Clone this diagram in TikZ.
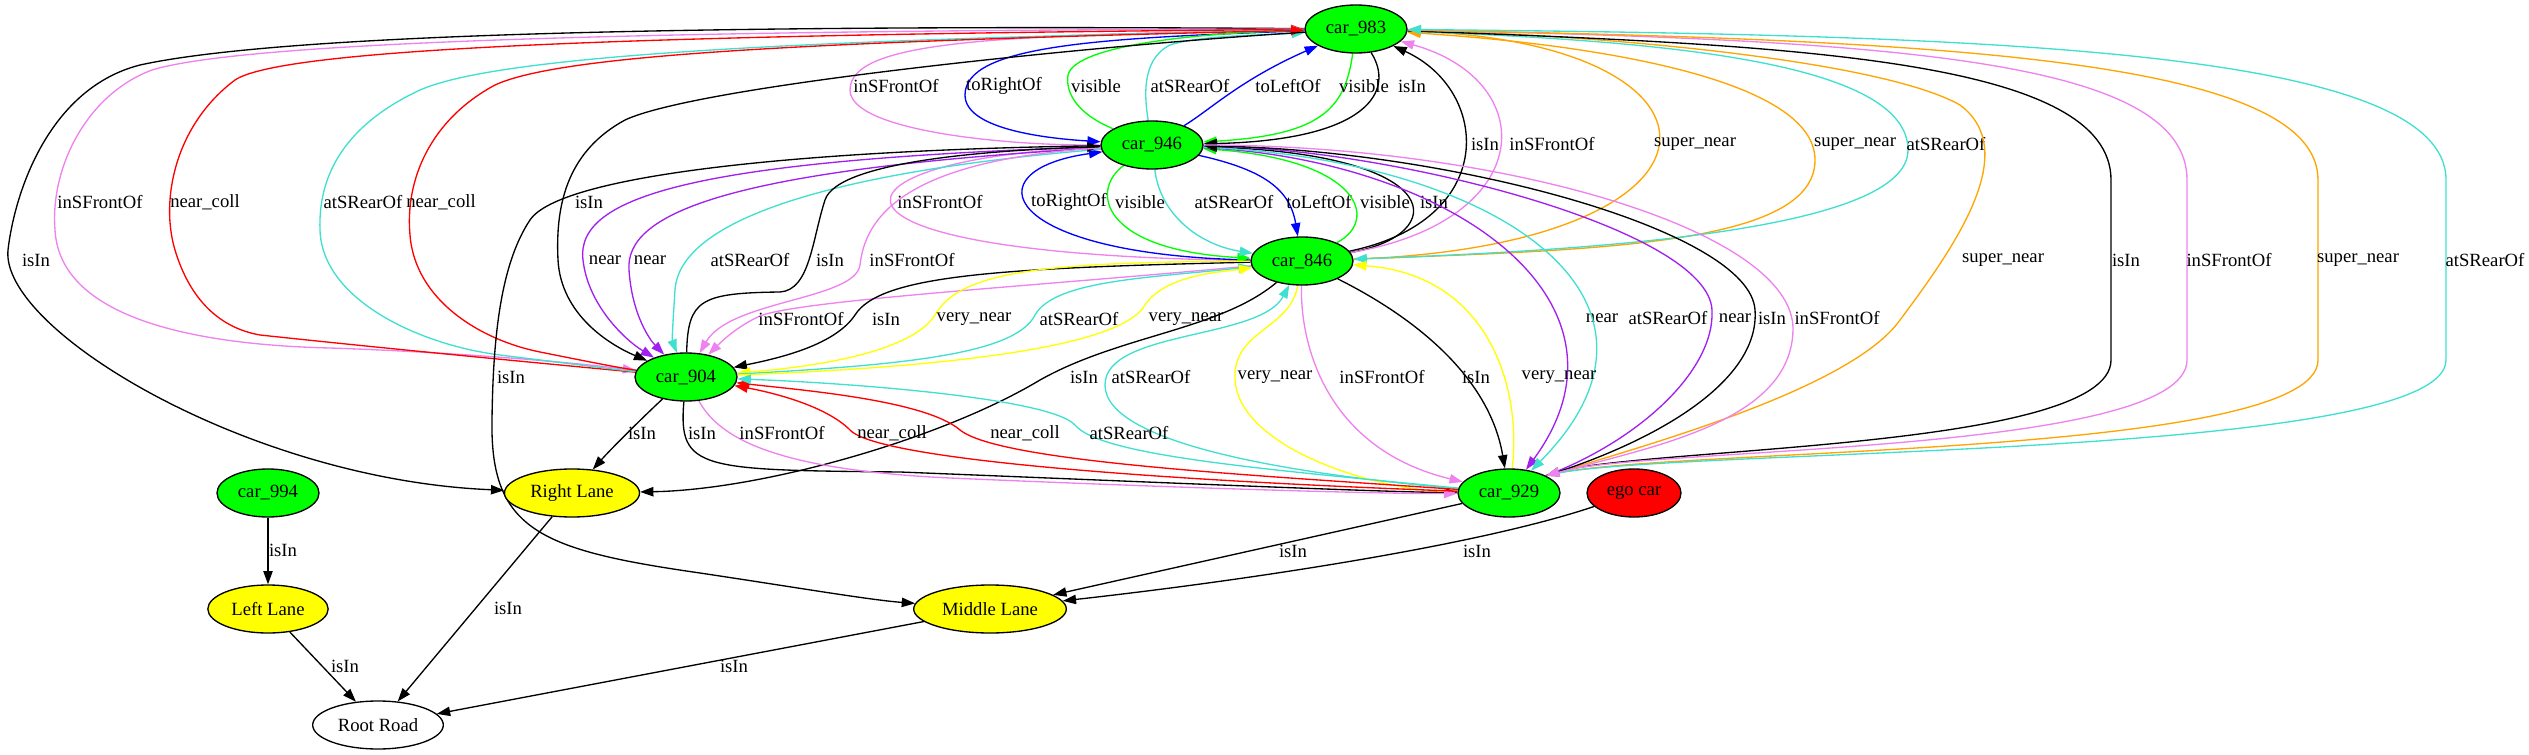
\documentclass[tikz,border=0pt]{standalone}
\usepackage{fontspec}
\setmainfont{Liberation Serif}
\usepackage{tikz}
\usetikzlibrary{shapes.geometric,arrows.meta,backgrounds}
\definecolor{gvgreen}{HTML}{00FF00}
\definecolor{gvyellow}{HTML}{FFFF00}
\definecolor{gvred}{HTML}{FF0000}
\definecolor{gvviolet}{HTML}{EE82EE}
\definecolor{gvturq}{HTML}{40E0D0}
\definecolor{gvpurple}{HTML}{A020F0}
\definecolor{gvorange}{HTML}{FFA500}
\definecolor{gvblue}{HTML}{0000FF}
\tikzset{
  veh/.style={ellipse,draw,line width=1pt,fill=gvgreen,minimum height=36pt,
    minimum width=54pt,inner xsep=4.5pt,inner ysep=2pt},
  lane/.style={veh,fill=gvyellow},
  road/.style={veh,fill=white},
  ar/.style={-{Triangle[length=10pt,width=7pt]},line width=1pt},
  ra/.style={{Triangle[length=10pt,width=7pt]}-,line width=1pt},
  lbl/.style={inner sep=0pt,text=black},
}

\begin{document}
\begin{tikzpicture}[x=0.75pt,y=-0.75pt,font=\fontsize{14}{16}\selectfont]
  \useasboundingbox (0,0) rectangle (2529,755);
  \node[veh] (c983) at (1356,29) {car\_983};
  \node[veh] (c946) at (1152,145) {car\_946};
  \node[veh] (c846) at (1302,261) {car\_846};
  \node[veh] (c904) at (686,377) {car\_904};
  \node[veh] (c994) at (268,493) {car\_994};
  \node[lane] (rlane) at (572,493) {Right Lane};
  \node[veh] (c929) at (1509,493) {car\_929};
  \node[veh,fill=gvred] (ego) at (1634,493) {ego car};
  \node[lane] (llane) at (268,609) {Left Lane};
  \node[lane] (mlane) at (990,609) {Middle Lane};
  \node[road] (root) at (378,725) {Root Road};

  \begin{scope}[on background layer]
  \draw[ar,gvviolet] (c983) .. controls (1000,35) and (850,40) .. (850,90) .. controls (850,130) and (1000,145) .. (c946) node[lbl] (t1) at (896,86) {inSFrontOf};
  \draw[ar,gvblue] (c983) .. controls (1100,38) and (965,45) .. (965,95) .. controls (965,128) and (1040,138) .. (c946) node[lbl] (t2) at (1004,86) {toRightOf};
  \draw[ar,gvgreen] (c946) .. controls (1080,115) and (1065,95) .. (1068,75) .. controls (1075,45) and (1200,33) .. (c983) node[lbl] (t3) at (1096,86) {visible};
  \draw[ar,gvturq] (c946) .. controls (1145,100) and (1140,60) .. (1170,45) .. controls (1200,35) and (1270,35) .. (c983) node[lbl] (t4) at (1190,86) {atSRearOf};
  \draw[ar,gvblue] (c946) .. controls (1210,110) and (1240,80) .. (c983) node[lbl] (t5) at (1288,86) {toLeftOf};
  \draw[ar,gvgreen] (c983) .. controls (1345,110) and (1320,135) .. (c946) node[lbl] (t6) at (1364,86) {visible};
  \draw[ar] (c983) .. controls (1395,90) and (1370,140) .. (c946) node[lbl] (t7) at (1412,86) {isIn};

  \draw[ar,gvviolet] (c846) .. controls (780,255) and (820,160) .. (c946) node[lbl] (t8) at (940,202) {inSFrontOf};
  \draw[ar,gvblue] (c846) .. controls (1000,255) and (970,170) .. (c946) node[lbl] (t9) at (1069,202) {toRightOf};
  \draw[ar,gvgreen] (c946) .. controls (1090,190) and (1100,250) .. (c846) node[lbl] (t10) at (1140,202) {visible};
  \draw[ar,gvturq] (c946) .. controls (1160,215) and (1200,245) .. (c846) node[lbl] (t11) at (1234,202) {atSRearOf};
  \draw[ar,gvblue] (c946) .. controls (1265,170) and (1290,190) .. (c846) node[lbl] (t12) at (1319,202) {toLeftOf};
  \draw[ar,gvgreen] (c846) .. controls (1380,220) and (1360,160) .. (c946) node[lbl] (t13) at (1385,202) {visible};
  \draw[ar] (c846) .. controls (1450,235) and (1450,155) .. (c946) node[lbl] (t14) at (1434,202) {isIn};

  \draw[ar] (c846) .. controls (1500,220) and (1490,90) .. (c983) node[lbl] (t15) at (1485,144) {isIn};
  \draw[ar,gvviolet] (c846) .. controls (1540,220) and (1540,80) .. (c983) node[lbl] (t16) at (1552,144) {inSFrontOf};
  \draw[ar,gvorange] (c846) .. controls (1750,245) and (1750,45) .. (c983) node[lbl] (t17) at (1695,144) {super\_near};
  \draw[ar,gvorange] (c846) .. controls (1600,250) and (1815,245) .. (1815,160) .. controls (1815,80) and (1600,45) .. (c983) node[lbl] (t18) at (1855,144) {super\_near};
  \draw[ar,gvturq] (c983) .. controls (1620,40) and (1908,55) .. (1908,150) .. controls (1908,230) and (1600,250) .. (c846) node[lbl] (t19) at (1946,144) {atSRearOf};

  \draw[ar,gvorange] (c929.25) .. controls (1640,447) and (1850,390) .. (1900,320) .. controls (1960,240) and (2020,150) .. (1960,105) .. controls (1880,60) and (1600,35) .. (c983) node[lbl] (t20) at (2003,260) {super\_near};
  \draw[ar] (c983) .. controls (1800,45) and (2111,60) .. (2111,180) -- (2111,360) .. controls (2111,450) and (1640,447) .. (c929.25) node[lbl] (t21) at (2126,260) {isIn};
  \draw[ar,gvviolet] (c983) .. controls (1900,40) and (2187,60) .. (2187,180) -- (2187,360) .. controls (2187,455) and (1640,447) .. (c929.25) node[lbl] (t22) at (2229,260) {inSFrontOf};
  \draw[ar,gvorange] (c929.25) .. controls (1640,447) and (2318,460) .. (2318,360) -- (2318,180) .. controls (2318,60) and (1950,40) .. (c983) node[lbl] (t23) at (2358,260) {super\_near};
  \draw[ar,gvturq] (c929.25) .. controls (1640,447) and (2446,462) .. (2446,360) -- (2446,180) .. controls (2446,50) and (2000,35) .. (c983) node[lbl] (t24) at (2485,260) {atSRearOf};

  \draw[ar,gvpurple] (c946) .. controls (1450,160) and (1650,300) .. (c929) node[lbl] (t25) at (1602,318) {near};
  \draw[ar,gvturq] (c946) .. controls (1500,160) and (1700,300) .. (c929) node[lbl] (t26) at (1668,318) {atSRearOf};
  \draw[ar,gvpurple] (c929.25) .. controls (1640,440) and (1715,370) .. (1712,310) .. controls (1708,230) and (1400,150) .. (c946) node[lbl] (t27) at (1735,318) {near};
  \draw[ar] (c929.25) .. controls (1660,440) and (1760,380) .. (1755,310) .. controls (1750,230) and (1450,150) .. (c946) node[lbl] (t28) at (1772,318) {isIn};
  \draw[ar,gvviolet] (c946) .. controls (1500,145) and (1795,230) .. (1793,330) .. controls (1791,420) and (1660,445) .. (c929.25) node[lbl] (t29) at (1837,318) {inSFrontOf};

  \draw[ar,gvpurple] (c946) .. controls (700,160) and (575,195) .. (583,260) .. controls (588,305) and (625,340) .. (c904) node[lbl] (t30) at (605,260) {near};
  \draw[ar,gvpurple] (c946) .. controls (720,170) and (625,215) .. (629,270) .. controls (632,315) and (650,340) .. (c904) node[lbl] (t31) at (650,260) {near};
  \draw[ar,gvturq] (c946) .. controls (850,170) and (680,215) .. (675,290) .. controls (673,320) and (672,340) .. (c904) node[lbl] (t32) at (750,260) {atSRearOf};
  \draw[ar] (c904) .. controls (688,300) and (700,293) .. (780,292) .. controls (810,290) and (812,240) .. (825,200) .. controls (838,160) and (1000,150) .. (c946) node[lbl] (t33) at (830,260) {isIn};
  \draw[ar,gvviolet] (c946) .. controls (900,160) and (865,220) .. (860,265) .. controls (855,300) and (730,300) .. (c904) node[lbl] (t34) at (912,260) {inSFrontOf};

  \draw[ar,gvviolet] (c846) .. controls (1050,285) and (800,300) .. (760,316) .. controls (740,325) and (725,338) .. (c904) node[lbl] (t35) at (801,319) {inSFrontOf};
  \draw[ar] (c846) .. controls (1000,268) and (880,275) .. (855,315) .. controls (835,345) and (780,358) .. (c904) node[lbl] (t36) at (886,319) {isIn};
  \draw[ar,gvyellow] (c846) .. controls (1050,262) and (960,270) .. (935,315) .. controls (910,355) and (800,368) .. (c904) node[lbl] (t37) at (974,319) {very\_near};
  \draw[ar,gvturq] (c904) .. controls (900,365) and (1015,355) .. (1035,315) .. controls (1055,280) and (1150,278) .. (c846) node[lbl] (t38) at (1079,319) {atSRearOf};
  \draw[ar,gvyellow] (c904) .. controls (1000,365) and (1125,340) .. (1145,305) .. controls (1165,275) and (1220,272) .. (c846) node[lbl] (t39) at (1186,319) {very\_near};

  \draw[ar] (c846) .. controls (1220,330) and (1120,335) .. (1040,380) .. controls (940,440) and (760,490) .. (rlane) node[lbl] (t40) at (1084,377) {isIn};
  \draw[ar,gvturq] (c929) .. controls (1300,475) and (1105,445) .. (1105,385) .. controls (1105,330) and (1260,340) .. (c846) node[lbl] (t41) at (1151,377) {atSRearOf};
  \draw[ar,gvyellow] (c846) .. controls (1290,330) and (1232,330) .. (1235,380) .. controls (1240,450) and (1380,490) .. (c929) node[lbl] (t42) at (1275,377) {very\_near};
  \draw[ar,gvviolet] (c846) .. controls (1300,350) and (1330,450) .. (c929) node[lbl] (t43) at (1382,377) {inSFrontOf};
  \draw[ar] (c846) .. controls (1420,320) and (1490,380) .. (c929) node[lbl] (t44) at (1476,377) {isIn};
  \draw[ar,gvyellow] (c929) .. controls (1522,390) and (1490,275) .. (c846) node[lbl] (t45) at (1559,377) {very\_near};

  \draw[ar] (c904) .. controls (640,420) and (610,450) .. (rlane) node[lbl] (t46) at (642,433) {isIn};
  \draw[ar] (c904) .. controls (678,470) and (700,470) .. (900,472) .. controls (1150,482) and (1380,492) .. (c929) node[lbl] (t47) at (702,433) {isIn};
  \draw[ar,gvviolet] (c904) .. controls (720,440) and (780,470) .. (950,478) .. controls (1180,488) and (1380,494) .. (c929) node[lbl] (t48) at (782,433) {inSFrontOf};
  \draw[ar,gvred] (c929) .. controls (1200,482) and (880,462) .. (850,430) .. controls (825,405) and (770,392) .. (c904) node[lbl] (t49) at (892,433) {near\_coll};
  \draw[ar,gvred] (c929) .. controls (1250,475) and (1000,462) .. (960,430) .. controls (925,400) and (800,390) .. (c904) node[lbl] (t50) at (1025,433) {near\_coll};
  \draw[ar,gvturq] (c929) .. controls (1250,468) and (1100,455) .. (1075,425) .. controls (1050,398) and (850,383) .. (c904) node[lbl] (t51) at (1129,433) {atSRearOf};

  \draw[ar] (c983) .. controls (800,25) and (300,30) .. (140,65) .. controls (50,88) and (15,190) .. (8,250) .. controls (0,330) and (250,480) .. (rlane) node[lbl] (t52) at (36,260) {isIn};
  \draw[ar,gvviolet] (c983) .. controls (700,30) and (250,40) .. (152,70) .. controls (85,95) and (50,170) .. (55,230) .. controls (60,320) and (200,345) .. (330,348) .. controls (450,352) and (570,362) .. (c904) node[lbl] (t53) at (100,202) {inSFrontOf};
  \draw[ra,gvred] (c983) .. controls (600,35) and (280,50) .. (235,80) .. controls (175,125) and (160,200) .. (175,250) .. controls (190,300) and (220,328) .. (260,335) .. controls (400,350) and (560,365) .. (c904) node[lbl] (t54) at (205,202) {near\_coll};
  \draw[ra,gvturq] (c983) .. controls (800,40) and (500,55) .. (420,90) .. controls (345,125) and (318,175) .. (320,230) .. controls (322,300) and (420,345) .. (500,355) .. controls (580,365) and (620,370) .. (c904) node[lbl] (t55) at (363,202) {atSRearOf};
  \draw[ra,gvred] (c983) .. controls (800,42) and (560,55) .. (495,85) .. controls (430,120) and (405,180) .. (410,235) .. controls (415,300) and (480,340) .. (540,352) .. controls (590,362) and (620,368) .. (c904) node[lbl] (t56) at (441,202) {near\_coll};
  \draw[ar] (c983) .. controls (1100,45) and (700,85) .. (625,120) .. controls (570,150) and (555,200) .. (558,260) .. controls (561,315) and (610,345) .. (c904) node[lbl] (t57) at (589,202) {isIn};

  \draw[ar] (c946) .. controls (800,150) and (560,175) .. (530,220) .. controls (500,265) and (493,340) .. (492,420) .. controls (490,530) and (540,550) .. (700,573) .. controls (800,588) and (870,600) .. (mlane) node[lbl] (t58) at (511,377) {isIn};

  \draw[ar] (c994) -- (llane) node[lbl] (t59) at (283,550) {isIn};
  \draw[ar] (llane) -- (root) node[lbl] (t60) at (345,666) {isIn};
  \draw[ar] (rlane) -- (root) node[lbl] (t61) at (508,608) {isIn};
  \draw[ar] (mlane) -- (root) node[lbl] (t62) at (734,666) {isIn};
  \draw[ar] (c929) -- (mlane) node[lbl] (t63) at (1293,551) {isIn};
  \draw[ar] (ego) .. controls (1480,545) and (1250,580) .. (mlane) node[lbl] (t64) at (1477,551) {isIn};
  \end{scope}
\end{tikzpicture}
\end{document}
